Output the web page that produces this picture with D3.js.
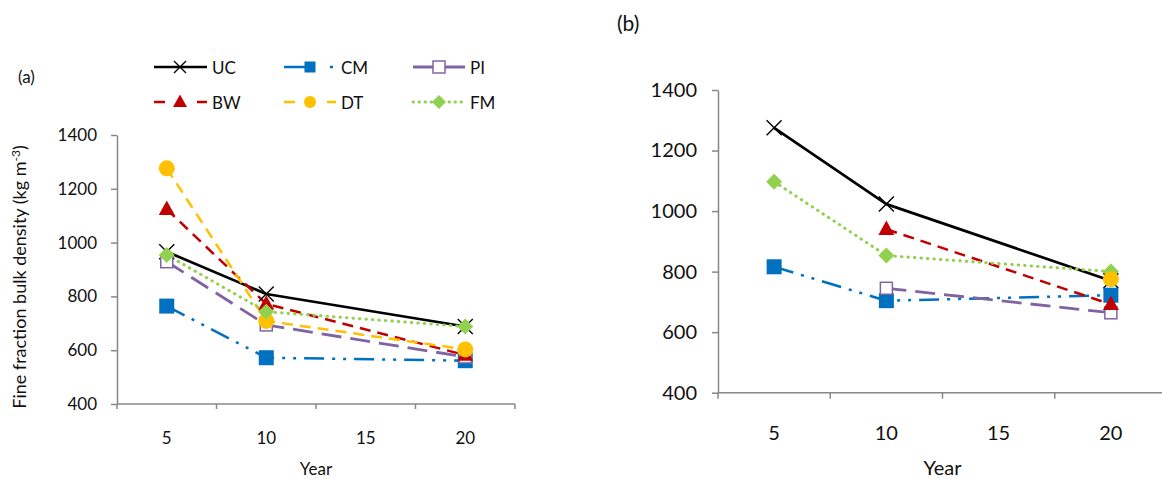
<!DOCTYPE html>
<html>
<head>
<meta charset="utf-8">
<script src="https://cdn.jsdelivr.net/npm/d3@7"></script>
<style>
  html, body { margin: 0; padding: 0; background: #fff; }
  svg { display: block; }
  text { font-family: Lato, "Open Sans", sans-serif; fill: #111; }
</style>
</head>
<body>
<svg id="chart" width="1162" height="479"></svg>
<script>
// ---------------- DATA ----------------
const years = ["5", "10", "15", "20"];
const seriesNames = ["UC", "CM", "PI", "BW", "DT", "FM"];
const yTicks = [400, 600, 800, 1000, 1200, 1400];

// Panel (a)
const aUC = [966, 809, null, 688];
const aCM = [764, 572, null, 561];
const aPI = [929, 694, null, 575];
const aBW = [1124, 772, null, 582];
const aDT = [1276, 709, null, 603];
const aFM = [954, 743, null, 688];

// Panel (b)
const bUC = [1275, 1023, null, 770];
const bCM = [816, 704, null, 722];
const bPI = [null, 745, null, 664];
const bBW = [null, 940, null, 692];
const bDT = [null, null, null, 775];
const bFM = [1097, 853, null, 800];

// ---------------- STYLES ----------------
const style = {
  UC: { color: "#000000", dash: null, width: 2.7, marker: "x" },
  CM: { color: "#0070C0", dash: "20,8,3,8,3,8", width: 2.5, marker: "square" },
  PI: { color: "#8064A2", dash: "20,9", width: 2.8, marker: "open" },
  BW: { color: "#C00000", dash: "11,7", width: 2.5, marker: "triangle" },
  DT: { color: "#FFC000", dash: "11,7", width: 2.5, marker: "circle" },
  FM: { color: "#92D050", dash: "0.5,6", width: 3, marker: "diamond", round: true }
};
const legendDash = { UC: null, CM: "22,24,3,20", PI: null, BW: "11,32,11", DT: "11,32,11", FM: "0.5,5.5" };

const svg = d3.select("#chart");
const axisColor = "#888888";

function drawMarker(g, type, x, y, s, color) {
  if (type === "x") {
    const h = s / 2;
    g.append("path").attr("d", `M${x-h},${y-h}L${x+h},${y+h}M${x-h},${y+h}L${x+h},${y-h}`)
      .attr("stroke", color).attr("stroke-width", 1.4).attr("fill", "none");
  } else if (type === "square") {
    g.append("rect").attr("x", x - s/2).attr("y", y - s/2).attr("width", s).attr("height", s)
      .attr("fill", color);
  } else if (type === "open") {
    g.append("rect").attr("x", x - s/2).attr("y", y - s/2).attr("width", s).attr("height", s)
      .attr("fill", "#fff").attr("stroke", color).attr("stroke-width", 1.5);
  } else if (type === "triangle") {
    const h = s * 0.9;
    g.append("path").attr("d", `M${x},${y - h*0.6}L${x + s/2},${y + h*0.4}L${x - s/2},${y + h*0.4}Z`)
      .attr("fill", color);
  } else if (type === "circle") {
    g.append("circle").attr("cx", x).attr("cy", y).attr("r", s/2).attr("fill", color);
  } else if (type === "diamond") {
    const h = s / 2;
    g.append("path").attr("d", `M${x},${y-h}L${x+h},${y}L${x},${y+h}L${x-h},${y}Z`).attr("fill", color);
  }
}

const markerSize = { x: 15, square: 15, open: 12, triangle: 16, circle: 16, diamond: 16 };

function drawPanel(cfg) {
  const g = svg.append("g");
  const x = d3.scaleBand().domain(years).range(cfg.xRange).paddingInner(0).paddingOuter(0);
  const y = d3.scaleLinear().domain([400, 1400]).range(cfg.yRange);

  // y axis
  const yAxis = d3.axisLeft(y).tickValues(yTicks).tickFormat(d3.format("d"))
    .tickSize(6).tickSizeOuter(0).tickPadding(cfg.yPad);
  const ya = g.append("g").attr("transform", `translate(${cfg.xRange[0]},0)`).call(yAxis);
  ya.selectAll("path.domain").attr("stroke", axisColor).attr("stroke-width", 1.5);
  ya.selectAll(".tick line").attr("stroke", axisColor).attr("stroke-width", 1.5);
  ya.selectAll(".tick text").style("font-family", "Lato, 'Open Sans', sans-serif")
    .style("font-size", cfg.fs + "px").attr("fill", "#111");

  // x axis (ticks at category boundaries, labels at centers)
  const base = cfg.yRange[0];
  const xb = g.append("g");
  xb.append("line").attr("x1", cfg.xRange[0]).attr("x2", cfg.xRange[1]).attr("y1", base).attr("y2", base)
    .attr("stroke", axisColor).attr("stroke-width", 1.5);
  const edges = years.map(d => x(d)).concat([x(years[years.length-1]) + x.bandwidth()]);
  xb.selectAll("line.tk").data(edges).enter().append("line").attr("class", "tk")
    .attr("x1", d => d).attr("x2", d => d).attr("y1", base).attr("y2", base + cfg.xTick)
    .attr("stroke", axisColor).attr("stroke-width", 1.5);
  xb.selectAll("text.lbl").data(years).enter().append("text").attr("class", "lbl")
    .attr("x", d => x(d) + x.bandwidth()/2).attr("y", cfg.xLabY)
    .attr("text-anchor", "middle").attr("dominant-baseline", "central")
    .style("font-size", cfg.fs + "px").text(d => d);
  g.append("text").attr("x", (cfg.xRange[0] + cfg.xRange[1]) / 2).attr("y", cfg.titleY)
    .attr("text-anchor", "middle").attr("dominant-baseline", "central")
    .style("font-size", cfg.fs + "px").text("Year");

  // lines
  const line = d3.line().x(d => x(d.c) + x.bandwidth()/2).y(d => y(d.v));
  cfg.order.forEach(name => {
    const vals = cfg.data[name];
    const pts = years.map((c, i) => ({ c, v: vals[i] })).filter(d => d.v != null);
    if (pts.length < 2) return;
    const st = style[name];
    g.append("path").datum(pts).attr("d", line).attr("fill", "none")
      .attr("stroke", st.color).attr("stroke-width", st.width)
      .attr("stroke-dasharray", st.dash).attr("stroke-linecap", st.round ? "round" : "butt")
      .attr("stroke-linejoin", "round");
  });
  // markers
  cfg.order.forEach(name => {
    const vals = cfg.data[name];
    const st = style[name];
    years.forEach((c, i) => {
      if (vals[i] == null) return;
      drawMarker(g, st.marker, x(c) + x.bandwidth()/2, y(vals[i]), markerSize[st.marker], st.color);
    });
  });
}

drawPanel({
  xRange: [117, 515], yRange: [404, 135], fs: 17, yPad: 14, xTick: 5, xLabY: 437, titleY: 468,
  data: { UC: aUC, CM: aCM, PI: aPI, BW: aBW, DT: aDT, FM: aFM },
  order: ["UC", "CM", "PI", "BW", "DT", "FM"]
});
drawPanel({
  xRange: [718, 1167], yRange: [392.7, 90], fs: 20, yPad: 15, xTick: 6, xLabY: 432, titleY: 467,
  data: { UC: bUC, CM: bCM, PI: bPI, BW: bBW, DT: bDT, FM: bFM },
  order: ["UC", "CM", "PI", "BW", "FM", "DT"]
});

// panel labels
svg.append("text").attr("x", 18).attr("y", 76).attr("dominant-baseline", "central")
  .style("font-size", "17px").text("(a)");
svg.append("text").attr("x", 617).attr("y", 22).attr("dominant-baseline", "central")
  .style("font-size", "21px").text("(b)");

// y-axis title
const yt = svg.append("text").attr("transform", "translate(26,277) rotate(-90)")
  .attr("text-anchor", "middle").style("font-size", "18px");
yt.append("tspan").text("Fine fraction bulk density (kg m");
yt.append("tspan").attr("dy", -6).style("font-size", "12px").text("-3");
yt.append("tspan").attr("dy", 6).text(")");

// legend
const legCols = [154, 284, 413];
const legRows = [67, 102];
const legLen = [53, 52, 52];
const legMarkerSize = { x: 12, square: 11, open: 12, triangle: 14, circle: 12, diamond: 14 };
const lg = svg.append("g");
seriesNames.forEach((name, i) => {
  const col = i % 3, row = Math.floor(i / 3);
  const x0 = legCols[col], yy = legRows[row], st = style[name];
  lg.append("line").attr("x1", x0).attr("x2", x0 + legLen[col]).attr("y1", yy).attr("y2", yy)
    .attr("stroke", st.color).attr("stroke-width", st.width)
    .attr("stroke-dasharray", legendDash[name]).attr("stroke-linecap", st.round ? "round" : "butt");
  drawMarker(lg, st.marker, x0 + 26, yy, legMarkerSize[st.marker], st.color);
  lg.append("text").attr("x", x0 + legLen[col] + 5).attr("y", yy).attr("dominant-baseline", "central")
    .style("font-size", "17px").text(name);
});
</script>
</body>
</html>
